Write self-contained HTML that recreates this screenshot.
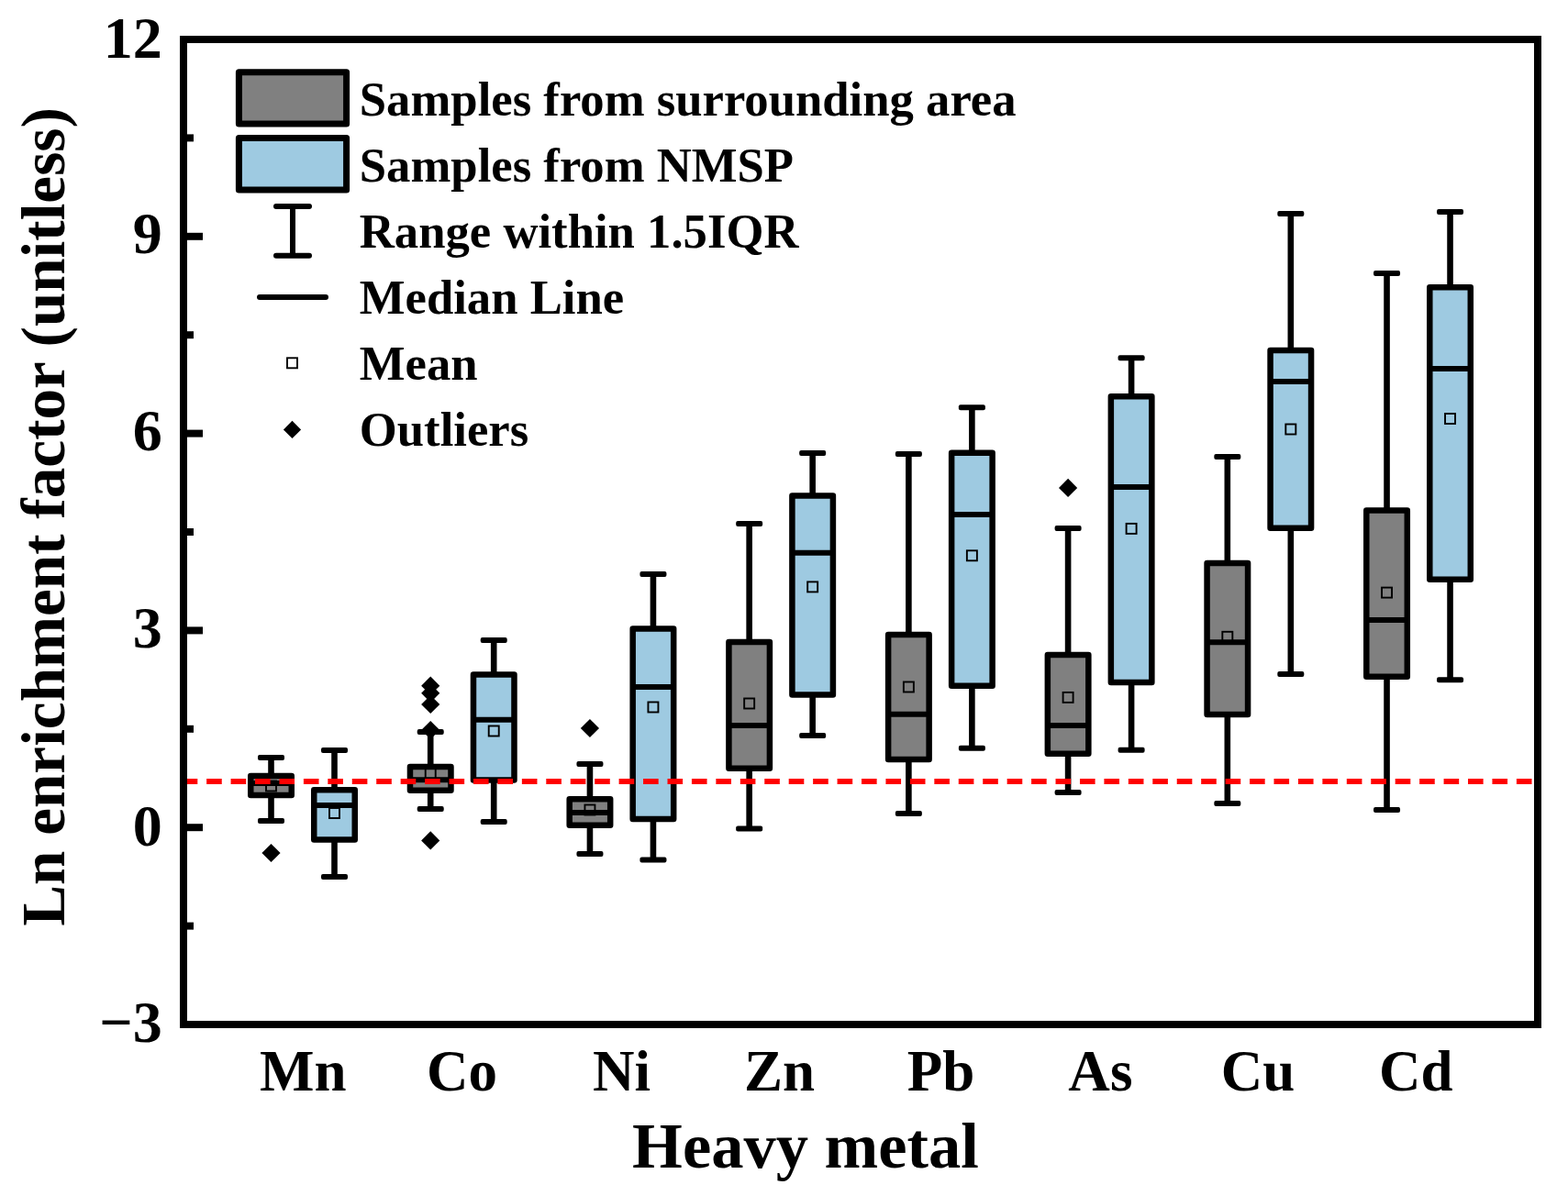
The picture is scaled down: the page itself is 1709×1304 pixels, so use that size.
<!DOCTYPE html>
<html><head><meta charset="utf-8"><title>Ln enrichment factor box plot</title>
<style>html,body{margin:0;padding:0;background:#fff;}svg{display:block;}text{font-family:"Liberation Serif","Times New Roman",serif;font-weight:bold;fill:#000;}</style></head><body>
<svg width="1709" height="1304" viewBox="0 0 1709 1304">
<rect x="0" y="0" width="1709" height="1304" fill="#fff"/>
<g stroke="#000" stroke-linejoin="round">
<line x1="295.5" y1="826" x2="295.5" y2="846" stroke-width="6.6"/><line x1="295.5" y1="866.9" x2="295.5" y2="895" stroke-width="6.6"/><rect x="281" y="823" width="29" height="6" rx="2" fill="#000" stroke="none"/><rect x="281" y="892" width="29" height="6" rx="2" fill="#000" stroke="none"/><rect x="273.25" y="846" width="44.5" height="20.9" fill="#808080" stroke-width="6.5"/><line x1="273.25" y1="853.9" x2="317.75" y2="853.9" stroke-width="6"/><rect x="290" y="851.5" width="11" height="11" fill="none" stroke-width="1.9" stroke-linejoin="miter"/><path d="M295.5 919.9L305.6 930L295.5 940.1L285.4 930Z" fill="#000" stroke="none"/>
<line x1="364.5" y1="818" x2="364.5" y2="861.3" stroke-width="6.6"/><line x1="364.5" y1="915.5" x2="364.5" y2="956" stroke-width="6.6"/><rect x="350" y="815" width="29" height="6" rx="2" fill="#000" stroke="none"/><rect x="350" y="953" width="29" height="6" rx="2" fill="#000" stroke="none"/><rect x="342.25" y="861.3" width="44.5" height="54.2" fill="#9ECAE1" stroke-width="6.5"/><line x1="342.25" y1="878" x2="386.75" y2="878" stroke-width="6"/><rect x="359" y="881" width="11" height="11" fill="none" stroke-width="1.9" stroke-linejoin="miter"/>
<line x1="469.22" y1="798" x2="469.22" y2="836" stroke-width="6.6"/><line x1="469.22" y1="861.7" x2="469.22" y2="882" stroke-width="6.6"/><rect x="454.72" y="795" width="29" height="6" rx="2" fill="#000" stroke="none"/><rect x="454.72" y="879" width="29" height="6" rx="2" fill="#000" stroke="none"/><rect x="446.97" y="836" width="44.5" height="25.7" fill="#808080" stroke-width="6.5"/><line x1="446.97" y1="850.2" x2="491.47" y2="850.2" stroke-width="6"/><rect x="463.72" y="838" width="11" height="11" fill="none" stroke-width="1.9" stroke-linejoin="miter"/><path d="M469.22 737.6L479.32 747.7L469.22 757.8L459.12 747.7Z" fill="#000" stroke="none"/><path d="M469.22 745.7L479.32 755.8L469.22 765.9L459.12 755.8Z" fill="#000" stroke="none"/><path d="M469.22 757.9L479.32 768L469.22 778.1L459.12 768Z" fill="#000" stroke="none"/><path d="M469.22 785.9L479.32 796L469.22 806.1L459.12 796Z" fill="#000" stroke="none"/><path d="M469.22 906.3L479.32 916.4L469.22 926.5L459.12 916.4Z" fill="#000" stroke="none"/>
<line x1="538.22" y1="698" x2="538.22" y2="735.5" stroke-width="6.6"/><line x1="538.22" y1="850.5" x2="538.22" y2="896" stroke-width="6.6"/><rect x="523.72" y="695" width="29" height="6" rx="2" fill="#000" stroke="none"/><rect x="523.72" y="893" width="29" height="6" rx="2" fill="#000" stroke="none"/><rect x="515.97" y="735.5" width="44.5" height="115" fill="#9ECAE1" stroke-width="6.5"/><line x1="515.97" y1="784.8" x2="560.47" y2="784.8" stroke-width="6"/><rect x="532.72" y="791.5" width="11" height="11" fill="none" stroke-width="1.9" stroke-linejoin="miter"/>
<line x1="642.94" y1="833" x2="642.94" y2="871.2" stroke-width="6.6"/><line x1="642.94" y1="899.8" x2="642.94" y2="931" stroke-width="6.6"/><rect x="628.44" y="830" width="29" height="6" rx="2" fill="#000" stroke="none"/><rect x="628.44" y="928" width="29" height="6" rx="2" fill="#000" stroke="none"/><rect x="620.69" y="871.2" width="44.5" height="28.6" fill="#808080" stroke-width="6.5"/><line x1="620.69" y1="886" x2="665.19" y2="886" stroke-width="6"/><rect x="637.44" y="877.5" width="11" height="11" fill="none" stroke-width="1.9" stroke-linejoin="miter"/><path d="M642.94 783.9L653.04 794L642.94 804.1L632.84 794Z" fill="#000" stroke="none"/>
<line x1="711.94" y1="626" x2="711.94" y2="685.5" stroke-width="6.6"/><line x1="711.94" y1="893" x2="711.94" y2="937.4" stroke-width="6.6"/><rect x="697.44" y="623" width="29" height="6" rx="2" fill="#000" stroke="none"/><rect x="697.44" y="934.4" width="29" height="6" rx="2" fill="#000" stroke="none"/><rect x="689.69" y="685.5" width="44.5" height="207.5" fill="#9ECAE1" stroke-width="6.5"/><line x1="689.69" y1="749" x2="734.19" y2="749" stroke-width="6"/><rect x="706.44" y="765.5" width="11" height="11" fill="none" stroke-width="1.9" stroke-linejoin="miter"/>
<line x1="816.66" y1="571.1" x2="816.66" y2="700" stroke-width="6.6"/><line x1="816.66" y1="837.7" x2="816.66" y2="903.6" stroke-width="6.6"/><rect x="802.16" y="568.1" width="29" height="6" rx="2" fill="#000" stroke="none"/><rect x="802.16" y="900.6" width="29" height="6" rx="2" fill="#000" stroke="none"/><rect x="794.41" y="700" width="44.5" height="137.7" fill="#808080" stroke-width="6.5"/><line x1="794.41" y1="790.9" x2="838.91" y2="790.9" stroke-width="6"/><rect x="811.16" y="761.5" width="11" height="11" fill="none" stroke-width="1.9" stroke-linejoin="miter"/>
<line x1="885.66" y1="494" x2="885.66" y2="540.4" stroke-width="6.6"/><line x1="885.66" y1="757.4" x2="885.66" y2="802" stroke-width="6.6"/><rect x="871.16" y="491" width="29" height="6" rx="2" fill="#000" stroke="none"/><rect x="871.16" y="799" width="29" height="6" rx="2" fill="#000" stroke="none"/><rect x="863.41" y="540.4" width="44.5" height="217" fill="#9ECAE1" stroke-width="6.5"/><line x1="863.41" y1="602.7" x2="907.91" y2="602.7" stroke-width="6"/><rect x="880.16" y="634.4" width="11" height="11" fill="none" stroke-width="1.9" stroke-linejoin="miter"/>
<line x1="990.38" y1="495" x2="990.38" y2="692" stroke-width="6.6"/><line x1="990.38" y1="828" x2="990.38" y2="887" stroke-width="6.6"/><rect x="975.88" y="492" width="29" height="6" rx="2" fill="#000" stroke="none"/><rect x="975.88" y="884" width="29" height="6" rx="2" fill="#000" stroke="none"/><rect x="968.13" y="692" width="44.5" height="136" fill="#808080" stroke-width="6.5"/><line x1="968.13" y1="778.8" x2="1012.63" y2="778.8" stroke-width="6"/><rect x="984.88" y="743.5" width="11" height="11" fill="none" stroke-width="1.9" stroke-linejoin="miter"/>
<line x1="1059.38" y1="444.2" x2="1059.38" y2="493.8" stroke-width="6.6"/><line x1="1059.38" y1="747.8" x2="1059.38" y2="815.8" stroke-width="6.6"/><rect x="1044.88" y="441.2" width="29" height="6" rx="2" fill="#000" stroke="none"/><rect x="1044.88" y="812.8" width="29" height="6" rx="2" fill="#000" stroke="none"/><rect x="1037.13" y="493.8" width="44.5" height="254" fill="#9ECAE1" stroke-width="6.5"/><line x1="1037.13" y1="560.9" x2="1081.63" y2="560.9" stroke-width="6"/><rect x="1053.88" y="600.3" width="11" height="11" fill="none" stroke-width="1.9" stroke-linejoin="miter"/>
<line x1="1164.1" y1="576" x2="1164.1" y2="714" stroke-width="6.6"/><line x1="1164.1" y1="821.8" x2="1164.1" y2="864" stroke-width="6.6"/><rect x="1149.6" y="573" width="29" height="6" rx="2" fill="#000" stroke="none"/><rect x="1149.6" y="861" width="29" height="6" rx="2" fill="#000" stroke="none"/><rect x="1141.85" y="714" width="44.5" height="107.8" fill="#808080" stroke-width="6.5"/><line x1="1141.85" y1="791" x2="1186.35" y2="791" stroke-width="6"/><rect x="1158.6" y="754.9" width="11" height="11" fill="none" stroke-width="1.9" stroke-linejoin="miter"/><path d="M1164.1 521.8L1174.2 531.9L1164.1 542L1154 531.9Z" fill="#000" stroke="none"/>
<line x1="1233.1" y1="390.2" x2="1233.1" y2="432.3" stroke-width="6.6"/><line x1="1233.1" y1="743.9" x2="1233.1" y2="817.8" stroke-width="6.6"/><rect x="1218.6" y="387.2" width="29" height="6" rx="2" fill="#000" stroke="none"/><rect x="1218.6" y="814.8" width="29" height="6" rx="2" fill="#000" stroke="none"/><rect x="1210.85" y="432.3" width="44.5" height="311.6" fill="#9ECAE1" stroke-width="6.5"/><line x1="1210.85" y1="531" x2="1255.35" y2="531" stroke-width="6"/><rect x="1227.6" y="570.9" width="11" height="11" fill="none" stroke-width="1.9" stroke-linejoin="miter"/>
<line x1="1337.82" y1="497.9" x2="1337.82" y2="614.1" stroke-width="6.6"/><line x1="1337.82" y1="778.9" x2="1337.82" y2="876" stroke-width="6.6"/><rect x="1323.32" y="494.9" width="29" height="6" rx="2" fill="#000" stroke="none"/><rect x="1323.32" y="873" width="29" height="6" rx="2" fill="#000" stroke="none"/><rect x="1315.57" y="614.1" width="44.5" height="164.8" fill="#808080" stroke-width="6.5"/><line x1="1315.57" y1="700.2" x2="1360.07" y2="700.2" stroke-width="6"/><rect x="1332.32" y="688.8" width="11" height="11" fill="none" stroke-width="1.9" stroke-linejoin="miter"/>
<line x1="1406.82" y1="233" x2="1406.82" y2="381.9" stroke-width="6.6"/><line x1="1406.82" y1="575.8" x2="1406.82" y2="735" stroke-width="6.6"/><rect x="1392.32" y="230" width="29" height="6" rx="2" fill="#000" stroke="none"/><rect x="1392.32" y="732" width="29" height="6" rx="2" fill="#000" stroke="none"/><rect x="1384.57" y="381.9" width="44.5" height="193.9" fill="#9ECAE1" stroke-width="6.5"/><line x1="1384.57" y1="416" x2="1429.07" y2="416" stroke-width="6"/><rect x="1401.32" y="462.5" width="11" height="11" fill="none" stroke-width="1.9" stroke-linejoin="miter"/>
<line x1="1511.54" y1="297.9" x2="1511.54" y2="556.4" stroke-width="6.6"/><line x1="1511.54" y1="737.8" x2="1511.54" y2="883" stroke-width="6.6"/><rect x="1497.04" y="294.9" width="29" height="6" rx="2" fill="#000" stroke="none"/><rect x="1497.04" y="880" width="29" height="6" rx="2" fill="#000" stroke="none"/><rect x="1489.29" y="556.4" width="44.5" height="181.4" fill="#808080" stroke-width="6.5"/><line x1="1489.29" y1="676.1" x2="1533.79" y2="676.1" stroke-width="6"/><rect x="1506.04" y="640.6" width="11" height="11" fill="none" stroke-width="1.9" stroke-linejoin="miter"/>
<line x1="1580.54" y1="231" x2="1580.54" y2="313.3" stroke-width="6.6"/><line x1="1580.54" y1="631.8" x2="1580.54" y2="741.2" stroke-width="6.6"/><rect x="1566.04" y="228" width="29" height="6" rx="2" fill="#000" stroke="none"/><rect x="1566.04" y="738.2" width="29" height="6" rx="2" fill="#000" stroke="none"/><rect x="1558.29" y="313.3" width="44.5" height="318.5" fill="#9ECAE1" stroke-width="6.5"/><line x1="1558.29" y1="402" x2="1602.79" y2="402" stroke-width="6"/><rect x="1575.04" y="451" width="11" height="11" fill="none" stroke-width="1.9" stroke-linejoin="miter"/>
</g>
<line x1="198.7" y1="852" x2="1672" y2="852" stroke="#f00" stroke-width="6" stroke-dasharray="16.6 9.84"/>
<rect x="200" y="43" width="1476" height="1074" fill="none" stroke="#000" stroke-width="8"/>
<g stroke="#000" stroke-width="8"><line x1="200" y1="257.8" x2="221" y2="257.8"/><line x1="200" y1="472.6" x2="221" y2="472.6"/><line x1="200" y1="687.4" x2="221" y2="687.4"/><line x1="200" y1="902.2" x2="221" y2="902.2"/><line x1="200" y1="150.4" x2="211" y2="150.4"/><line x1="200" y1="365.2" x2="211" y2="365.2"/><line x1="200" y1="580" x2="211" y2="580"/><line x1="200" y1="794.8" x2="211" y2="794.8"/><line x1="200" y1="1009.6" x2="211" y2="1009.6"/></g>
<g font-size="64" text-anchor="end"><text x="176.8" y="63">12</text><text x="176.8" y="275.8">9</text><text x="176.8" y="491.1">6</text><text x="176.8" y="706.4">3</text><text x="176.8" y="921.5">0</text><text x="176.8" y="1135.5">−3</text></g>
<g font-size="64" text-anchor="middle"><text transform="translate(330.4 1189) scale(0.985 1)">Mn</text><text transform="translate(503.62 1189) scale(0.985 1)">Co</text><text transform="translate(677.44 1189) scale(0.985 1)">Ni</text><text transform="translate(849.46 1189) scale(0.985 1)">Zn</text><text transform="translate(1025.48 1189) scale(0.985 1)">Pb</text><text transform="translate(1199.4 1189) scale(0.985 1)">As</text><text transform="translate(1371.12 1189) scale(0.985 1)">Cu</text><text transform="translate(1543.34 1189) scale(0.985 1)">Cd</text></g>
<text x="878" y="1272.6" font-size="70.5" text-anchor="middle">Heavy metal</text>
<text transform="translate(70 563.5) rotate(-90)" font-size="67.2" text-anchor="middle">Ln enrichment factor (unitless)</text>
<g stroke="#000" stroke-linejoin="round"><rect x="260.4" y="78.7" width="117.2" height="56.3" fill="#808080" stroke-width="7"/><rect x="260.4" y="150.5" width="117.2" height="56.5" fill="#9ECAE1" stroke-width="7"/><line x1="301" y1="225" x2="337" y2="225" stroke-width="6" stroke-linecap="round"/><line x1="301" y1="278.8" x2="337" y2="278.8" stroke-width="6" stroke-linecap="round"/><line x1="319" y1="225" x2="319" y2="278.8" stroke-width="6"/><line x1="283" y1="323.9" x2="355" y2="323.9" stroke-width="6" stroke-linecap="round"/><rect x="313" y="390.3" width="11" height="11" fill="none" stroke-width="1.9" stroke-linejoin="miter"/><path d="M318.5 458.8L328.1 468.4L318.5 478L308.9 468.4Z" fill="#000" stroke="none"/></g>
<g font-size="52.7"><text x="391.8" y="125.5">Samples from surrounding area</text><text x="391.8" y="197.5">Samples from NMSP</text><text x="391.8" y="269.5">Range within 1.5IQR</text><text x="391.8" y="341.5">Median Line</text><text x="391.8" y="413.5">Mean</text><text x="391.8" y="485.5">Outliers</text></g>
</svg>
</body></html>
